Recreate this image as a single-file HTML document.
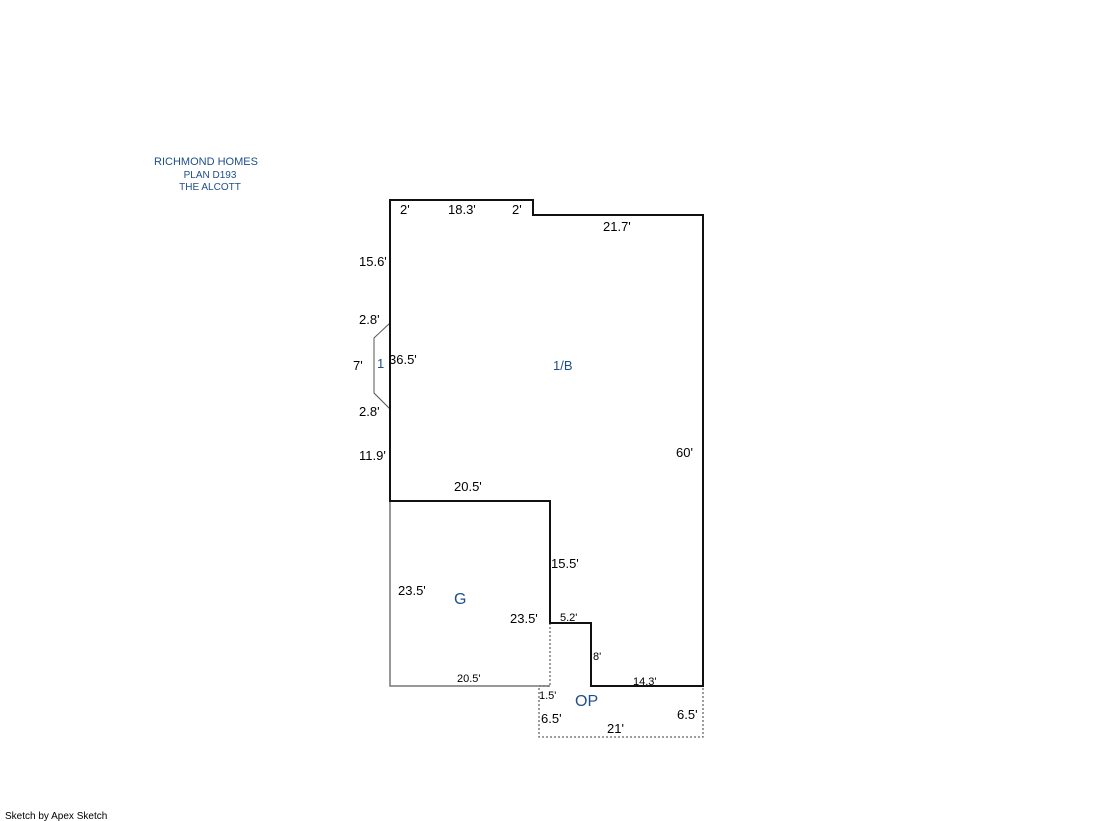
<!DOCTYPE html><html><head><style>body{margin:0;background:#fff}svg{display:block}</style></head><body>
<svg width="1119" height="821" xmlns="http://www.w3.org/2000/svg" font-family="Liberation Sans, DejaVu Sans, sans-serif">
<g fill="#1f4e8c" font-size="11" text-anchor="middle">
<text x="206" y="165">RICHMOND HOMES</text>
<text x="210" y="178" font-size="10">PLAN D193</text>
<text x="210" y="190" font-size="10">THE ALCOTT</text>
</g>
<polyline points="390,501 390,686 550,686" fill="none" stroke="#777" stroke-width="1.5"/>
<polyline points="390,323 374,338 374,393 390,409" fill="none" stroke="#555" stroke-width="1"/>
<path d="M550,623 V686 H539 V737 H703 V686" fill="none" stroke="#666" stroke-width="1.3" stroke-dasharray="2,2"/>
<polygon points="390,200 533,200 533,215 703,215 703,686 591,686 591,623 550,623 550,501 390,501" fill="none" stroke="#111" stroke-width="2"/>
<g fill="#000" font-size="13">
<text x="400" y="214">2'</text><text x="448" y="214">18.3'</text><text x="512" y="214">2'</text>
<text x="603" y="231">21.7'</text>
<text x="359" y="266">15.6'</text><text x="359" y="324">2.8'</text><text x="353" y="370">7'</text>
<text x="389" y="364">36.5'</text><text x="359" y="416">2.8'</text><text x="359" y="460">11.9'</text>
<text x="676" y="457">60'</text><text x="454" y="491">20.5'</text>
<text x="551" y="568">15.5'</text><text x="398" y="595">23.5'</text><text x="510" y="623">23.5'</text>
<text x="541" y="723">6.5'</text><text x="677" y="719">6.5'</text><text x="607" y="733">21'</text>
</g>
<g fill="#000" font-size="11">
<text x="560" y="621">5.2'</text><text x="593" y="660">8'</text>
<text x="457" y="682">20.5'</text><text x="633" y="685">14.3'</text><text x="539" y="699">1.5'</text>
</g>
<g fill="#1f4e8c">
<text x="377" y="368" font-size="13">1</text>
<text x="553" y="370" font-size="13">1/B</text>
<text x="454" y="604" font-size="16">G</text>
<text x="575" y="706" font-size="16">OP</text>
</g>
<text x="5" y="819" font-size="10" fill="#000">Sketch by Apex Sketch</text>
</svg></body></html>
